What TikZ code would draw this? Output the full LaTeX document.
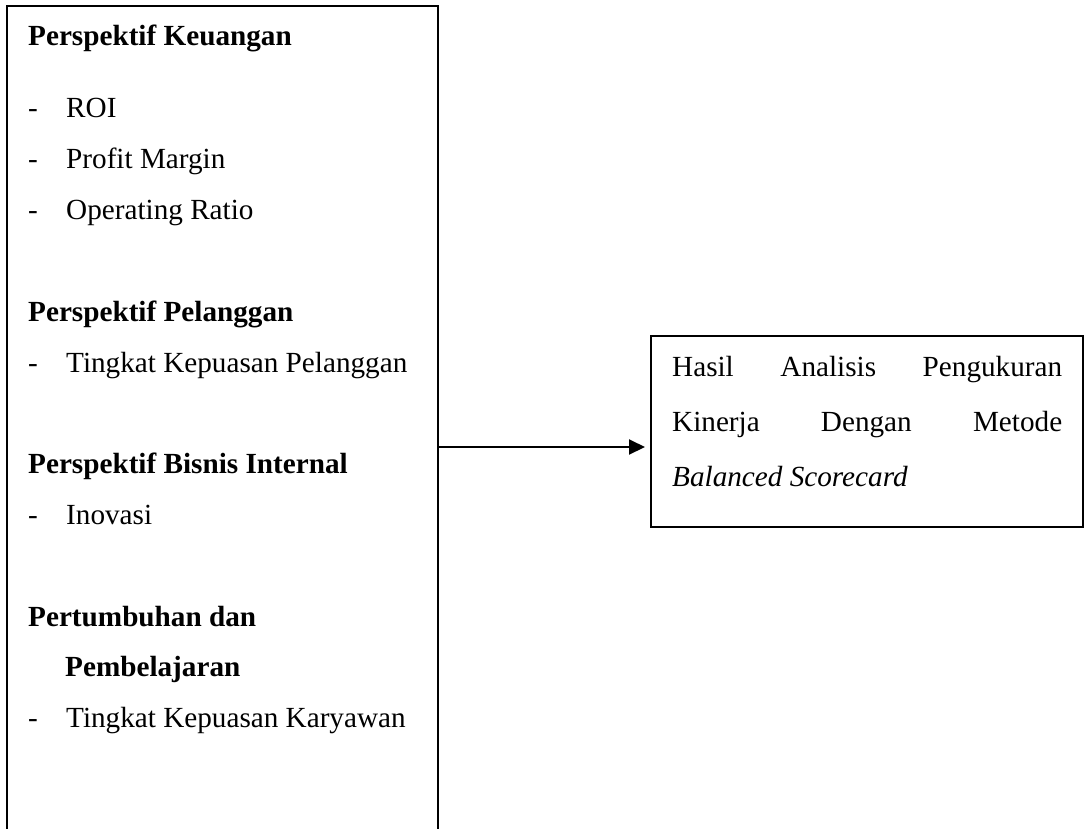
\documentclass[tikz,border=0pt]{standalone}
\usepackage{fontspec}
\setmainfont{Liberation Serif}
\usetikzlibrary{arrows.meta}

\newcommand{\bodyfont}{\fontsize{29.2}{51}\selectfont}

\tikzset{
    box/.style={draw=black, line width=2pt, inner sep=0pt, outer sep=0pt},
    heading/.style={anchor=base west, inner sep=0pt, font=\bodyfont\bfseries},
    item/.style={anchor=base west, inner sep=0pt, font=\bodyfont},
    flow/.style={line width=2pt, -{Triangle[length=16pt, width=15pt]}}
}

\begin{document}
\begin{tikzpicture}[x=1pt, y=-1pt]
    \useasboundingbox (0, 0) rectangle (1091, 828);
    \clip (0, 0) rectangle (1091, 828);

    % kotak perspektif
    \node[box, anchor=north west, minimum width=431pt, minimum height=880pt] (persp) at (7, 6) {};

    \node[heading] (keu) at (28, 45) {Perspektif Keuangan};
    \node[item] (d1) at (28, 117) {-};
    \node[item] (roi) at (66, 117) {ROI};
    \node[item] (d2) at (28, 168) {-};
    \node[item] (profit) at (66, 168) {Profit Margin};
    \node[item] (d3) at (28, 219) {-};
    \node[item] (opratio) at (66, 219) {Operating Ratio};

    \node[heading] (pel) at (28, 321) {Perspektif Pelanggan};
    \node[item] (d4) at (28, 372) {-};
    \node[item] (kepuasanpel) at (66, 372) {Tingkat Kepuasan Pelanggan};

    \node[heading] (bisnis) at (28, 473) {Perspektif Bisnis Internal};
    \node[item] (d5) at (28, 524) {-};
    \node[item] (inovasi) at (66, 524) {Inovasi};

    \node[heading] (tumbuh) at (28, 626) {Pertumbuhan dan};
    \node[heading] (belajar) at (65, 676) {Pembelajaran};
    \node[item] (d6) at (28, 727) {-};
    \node[item] (karyawan) at (66, 727) {Tingkat Kepuasan Karyawan};

    % kotak hasil
    \node[box, minimum width=432pt, minimum height=191pt] (hasil) at (867, 431.5) {};
    \node[item] (hasil1) at (672, 376) {\makebox[390pt][s]{Hasil Analisis Pengukuran}};
    \node[item] (hasil2) at (672, 431) {\makebox[390pt][s]{Kinerja Dengan Metode}};
    \node[item] (hasil3) at (672, 486) {\textit{Balanced Scorecard}};

    \coordinate (ujung) at (645, 447);
    \draw[flow] (ujung -| persp.east) -- (ujung);
\end{tikzpicture}
\end{document}
